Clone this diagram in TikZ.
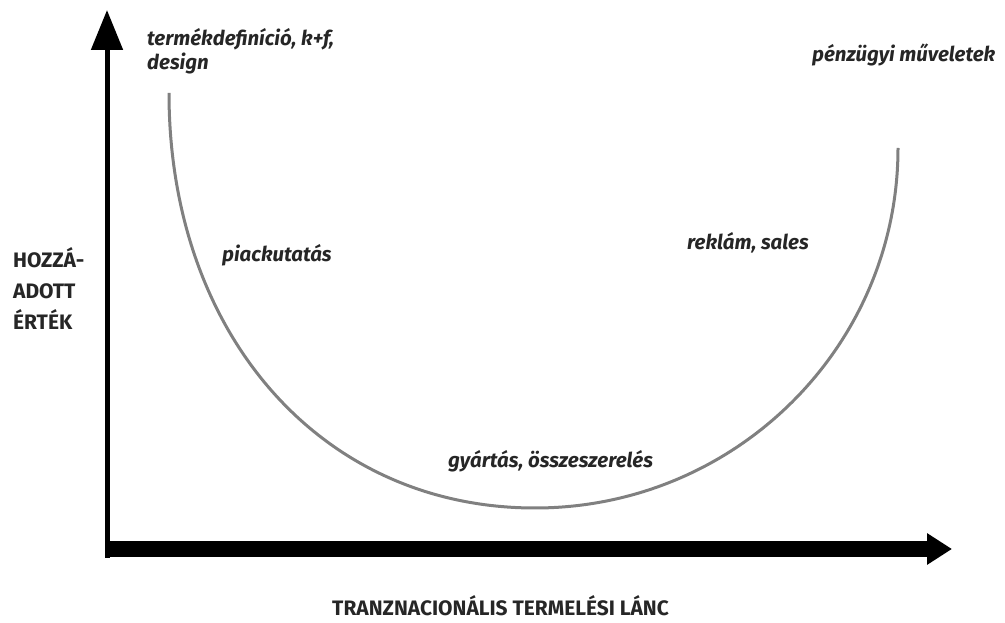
\documentclass[tikz,border=0pt]{standalone}
\usepackage{fontspec}
\setmainfont{Fira Sans}
\usetikzlibrary{arrows.meta,positioning}

\begin{document}
\begin{tikzpicture}[>={Triangle}, lbl/.style={anchor=base west, inner sep=0pt, font=\fontsize{20.5}{25}\selectfont\bfseries\itshape, text=black!85}, axlbl/.style={anchor=base west, inner sep=0pt, align=left, font=\fontsize{21}{31.5}\selectfont\bfseries, text=black!85}]
%%
  \useasboundingbox (0bp,0bp) rectangle (1005bp,623bp);
  \coordinate (o) at (107.0bp,65.0bp);
  \coordinate (ytip) at (107.0bp,613.0bp);
  \coordinate (xstart) at (105.0bp,74.0bp);
  \coordinate (xtip) at (952.0bp,74.0bp);
  \coordinate (c0) at (169.0bp,530.0bp);
  \coordinate (c1) at (535.0bp,115.0bp);
  \coordinate (c2) at (898.0bp,475.0bp);
  \draw [-{Triangle[length=40bp,width=31bp]}, line width=5bp] (o) -- (ytip);
  \draw [-{Triangle[length=25bp,width=30bp]}, line width=16bp] (xstart) -- (xtip);
  \draw [line width=3bp, black!50] (c0) ..controls (169.0bp,290.0bp) and (320.0bp,115.0bp)  .. (c1) .. controls (735.0bp,115.0bp) and (898.0bp,276.0bp)  .. (c2);
  \node (rd) at (147.0bp,553.0bp) [lbl, align=left] {termékdefiníció, k+f,\\design};
  \node (fin) at (812.0bp,561.0bp) [lbl] {pénzügyi műveletek};
  \node (mkt) at (222.0bp,361.0bp) [lbl] {piackutatás};
  \node (ads) at (687.0bp,373.0bp) [lbl] {reklám, sales};
  \node (prod) at (448.0bp,155.0bp) [lbl] {gyártás, összeszerelés};
  \node (yl) at (13.0bp,293.0bp) [axlbl] {HOZZÁ-\\ADOTT\\ÉRTÉK};
  \node (xl) at (332.0bp,8.0bp) [axlbl] {TRANZNACIONÁLIS TERMELÉSI LÁNC};
%
\end{tikzpicture}
\end{document}
